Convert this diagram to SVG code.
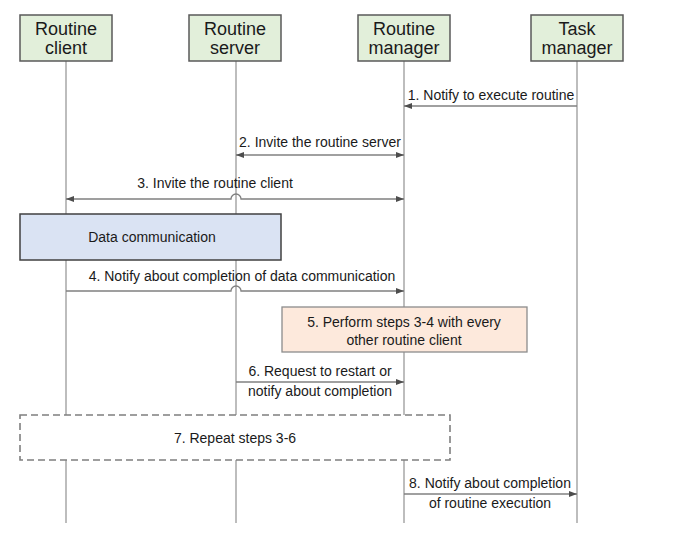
<svg xmlns="http://www.w3.org/2000/svg" width="674" height="551" viewBox="0 0 674 551">
<defs>
<style>
.life{stroke:#9a9a9a;stroke-width:1.3;fill:none}
.hdr{fill:#e2efda;stroke:#595959;stroke-width:1.5}
.ht{font-family:"Liberation Sans",Arial,sans-serif;font-size:18px;fill:#1a1a1a;text-anchor:middle}
.t{font-family:"Liberation Sans",Arial,sans-serif;font-size:14px;fill:#1a1a1a;text-anchor:middle}
.msg{stroke:#808080;stroke-width:1.3;fill:none}
</style>
<marker id="ah" viewBox="0 0 8 6" refX="8" refY="3" markerWidth="8" markerHeight="6" markerUnits="userSpaceOnUse" orient="auto-start-reverse">
<path d="M0,0 L8,3 L0,6 Z" fill="#4d4d4d"/>
</marker>
</defs>
<rect width="674" height="551" fill="#ffffff"/>
<g id="lifelines">
<line class="life" x1="66" y1="61" x2="66" y2="523"/>
<line class="life" x1="236" y1="61" x2="236" y2="523"/>
<line class="life" x1="404" y1="61" x2="404" y2="523"/>
<line class="life" x1="577" y1="61" x2="577" y2="523"/>
</g>
<g id="routine-client">
<rect class="hdr" x="20" y="15" width="92" height="46"/>
<text class="ht" x="66" y="35">Routine</text>
<text class="ht" x="66" y="54">client</text>
</g>
<g id="routine-server">
<rect class="hdr" x="189" y="15" width="92" height="46"/>
<text class="ht" x="235" y="35">Routine</text>
<text class="ht" x="235" y="54">server</text>
</g>
<g id="routine-manager">
<rect class="hdr" x="358" y="15" width="92" height="46"/>
<text class="ht" x="404" y="35">Routine</text>
<text class="ht" x="404" y="54">manager</text>
</g>
<g id="task-manager">
<rect class="hdr" x="531" y="15" width="92" height="46"/>
<text class="ht" x="577" y="35">Task</text>
<text class="ht" x="577" y="54">manager</text>
</g>
<g id="connectors">
<path class="msg" d="M577,106 H404" marker-end="url(#ah)"/>
<path class="msg" d="M236,155 H404" marker-start="url(#ah)" marker-end="url(#ah)"/>
<path class="msg" d="M66,199 H231 A5,5 0 0 1 241,199 H404" marker-start="url(#ah)" marker-end="url(#ah)"/>
<path class="msg" d="M66,291 H231 A5,5 0 0 1 241,291 H404" marker-end="url(#ah)"/>
<path class="msg" d="M236,382 H404" marker-end="url(#ah)"/>
<path class="msg" d="M404,494 H577" marker-end="url(#ah)"/>
</g>
<g id="labels">
<text class="t" x="491" y="100">1. Notify to execute routine</text>
<text class="t" x="320" y="147">2. Invite the routine server</text>
<text class="t" x="215" y="188">3. Invite the routine client</text>
<text class="t" x="242" y="281">4. Notify about completion of data communication</text>
<text class="t" x="320" y="376">6. Request to restart or</text>
<text class="t" x="320" y="396">notify about completion</text>
<text class="t" x="490" y="488">8. Notify about completion</text>
<text class="t" x="490" y="508">of routine execution</text>
</g>
<g id="data-communication">
<rect x="20" y="214" width="261" height="46" fill="#dae3f3" stroke="#404040" stroke-width="1.5"/>
<text class="t" x="152" y="242">Data communication</text>
</g>
<g id="step5">
<rect x="282" y="307" width="245" height="45" fill="#fde9dc" stroke="#8c8c8c" stroke-width="1.3"/>
<text class="t" x="404" y="327">5. Perform steps 3-4 with every</text>
<text class="t" x="404" y="345">other routine client</text>
</g>
<g id="step7">
<rect x="20" y="415" width="430" height="45" fill="#ffffff" stroke="#7f7f7f" stroke-width="1.6" stroke-dasharray="7,4"/>
<text class="t" x="235" y="443">7. Repeat steps 3-6</text>
</g>
</svg>
